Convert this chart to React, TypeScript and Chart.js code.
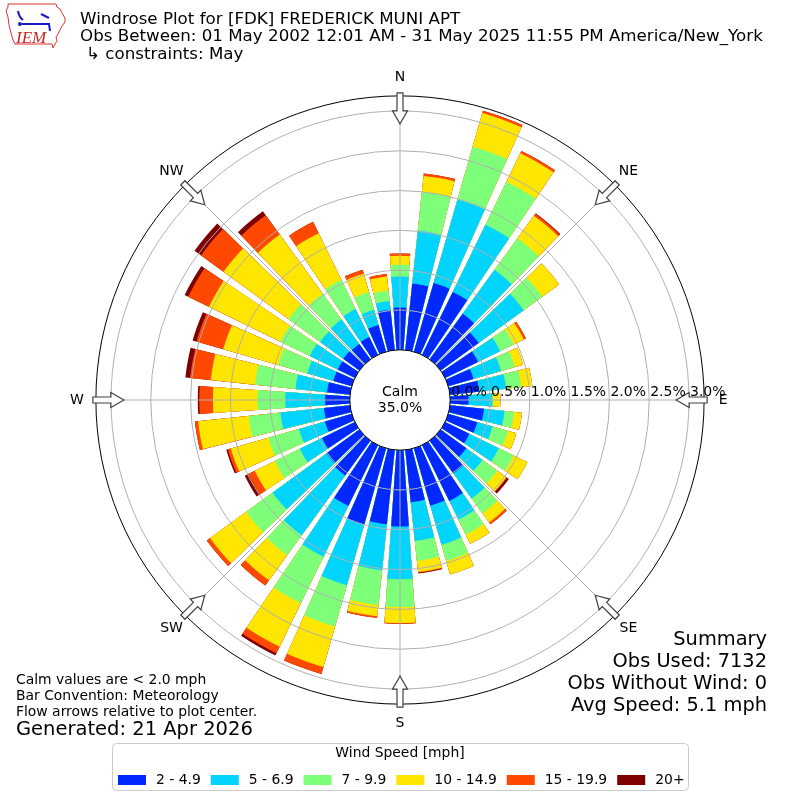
import React, { useEffect, useRef } from "react";
import { Chart, registerables } from "chart.js";

Chart.register(...registerables);

// ---------- data ----------
const directions = [0, 10, 20, 30, 40, 50, 60, 70, 80, 90, 100, 110, 120, 130, 140, 150, 160, 170,
  180, 190, 200, 210, 220, 230, 240, 250, 260, 270, 280, 290, 300, 310, 320, 330, 340, 350];

const speedBins = ["2 - 4.9", "5 - 6.9", "7 - 9.9", "10 - 14.9", "15 - 19.9", "20+"];
const binColors = ["#0028ff", "#00d4ff", "#7dff7a", "#ffe600", "#ff4800", "#7f0000"];

// percent of observations per direction, per speed bin
const bin2to5 = [0.53, 0.84, 0.90, 0.88, 0.71, 0.59, 0.46, 0.33, 0.37, 0.23, 0.43, 0.38, 0.34, 0.40, 0.51, 0.78, 0.75, 0.66,
  0.96, 0.94, 1.00, 0.85, 0.54, 0.51, 0.46, 0.35, 0.33, 0.31, 0.29, 0.24, 0.24, 0.25, 0.24, 0.25, 0.35, 0.51];
const bin5to7 = [0.39, 0.67, 1.09, 0.94, 0.68, 0.70, 0.31, 0.36, 0.34, 0.30, 0.26, 0.20, 0.41, 0.25, 0.39, 0.26, 0.51, 0.49,
  0.66, 0.58, 0.79, 0.71, 0.93, 0.84, 0.31, 0.34, 0.55, 0.50, 0.40, 0.34, 0.39, 0.36, 0.38, 0.39, 0.20, 0.11];
const bin7to10 = [0.15, 0.49, 0.69, 0.60, 0.49, 0.29, 0.19, 0.18, 0.19, 0.01, 0.12, 0.20, 0.21, 0.23, 0.23, 0.21, 0.21, 0.25,
  0.35, 0.44, 0.54, 0.65, 0.31, 0.41, 0.35, 0.40, 0.40, 0.35, 0.51, 0.38, 0.41, 0.49, 0.40, 0.41, 0.23, 0.13];
const bin10to15 = [0.11, 0.20, 0.44, 0.40, 0.35, 0.26, 0.14, 0.11, 0.14, 0.09, 0.10, 0.11, 0.19, 0.14, 0.14, 0.13, 0.18, 0.14,
  0.20, 0.14, 0.53, 0.61, 0.39, 0.56, 0.28, 0.49, 0.64, 0.56, 0.56, 0.72, 1.00, 1.01, 0.92, 0.65, 0.24, 0.18];
const bin15to20 = [0.03, 0.03, 0.03, 0.03, 0.03, 0.00, 0.03, 0.00, 0.00, 0.00, 0.00, 0.00, 0.00, 0.01, 0.03, 0.00, 0.00, 0.01,
  0.01, 0.02, 0.09, 0.09, 0.08, 0.05, 0.09, 0.04, 0.04, 0.17, 0.26, 0.35, 0.29, 0.35, 0.30, 0.16, 0.05, 0.03];
const bin20plus = [0.00, 0.00, 0.00, 0.00, 0.01, 0.00, 0.00, 0.00, 0.00, 0.00, 0.00, 0.00, 0.00, 0.03, 0.00, 0.00, 0.00, 0.01,
  0.00, 0.00, 0.00, 0.03, 0.00, 0.00, 0.05, 0.02, 0.00, 0.02, 0.06, 0.05, 0.05, 0.10, 0.06, 0.00, 0.00, 0.00];

const tickValues = [0, 0.5, 1, 1.5, 2, 2.5, 3];
const tickLabels = ["0.0%", "0.5%", "1.0%", "1.5%", "2.0%", "2.5%", "3.0%"];
const gridValues = [0.5, 1, 1.5, 2, 2.5, 3];
const compassLabels = ["N", "NE", "E", "SE", "S", "SW", "W", "NW"];
const compassAngles = [0, 45, 90, 135, 180, 225, 270, 315];

const calmLabel = "Calm";
const calmPercent = "35.0%";
const titleLines = [
  "Windrose Plot for [FDK] FREDERICK MUNI APT",
  "Obs Between: 01 May 2002 12:01 AM - 31 May 2025 11:55 PM America/New_York",
  "\u21b3 constraints: May",
];
const noteLines = ["Calm values are < 2.0 mph", "Bar Convention: Meteorology", "Flow arrows relative to plot center."];
const generatedText = "Generated: 21 Apr 2026";
const summaryLines = ["Summary", "Obs Used: 7132", "Obs Without Wind: 0", "Avg Speed: 5.1 mph"];
const legendTitle = "Wind Speed [mph]";

// ---------- geometry / style ----------
const W = 800;
const H = 800;
const PX_PER_PCT = 79.6;
const CALM_PX = 50.2;
const HALF_SIZE = 400;
const SCALE_MIN = -CALM_PX / PX_PER_PCT;
const SCALE_MAX = SCALE_MIN + HALF_SIZE / PX_PER_PCT;
const OUTER_VALUE = 3.19;
const BAR_SPAN = 8;
const GAP_SPAN = 2;
const FONT = "'DejaVu Sans', sans-serif";
const GRID_COLOR = "#b0b0b0";

const binSeries = [bin2to5, bin5to7, bin7to10, bin10to15, bin15to20, bin20plus];

// cumulative table for overlaid (stacked) polar areas
const cumulative = binSeries.map((_, k) =>
  directions.map((_, i) => {
    let s = 0;
    for (let j = 0; j <= k; j++) s += binSeries[j][i];
    return s;
  })
);

const chartLabels = directions.flatMap((d) => [d + "\u00b0", ""]);

function pt(cx: number, cy: number, r: number, deg: number, t = 0) {
  const a = (deg * Math.PI) / 180;
  return [cx + r * Math.sin(a) + t * Math.cos(a), cy - r * Math.cos(a) + t * Math.sin(a)];
}

const decorPlugin = {
  id: "windroseDecor",
  afterDatasetsDraw(chart: any) {
    const s = chart.scales.r;
    const ctx = chart.ctx;
    const rc = s.getDistanceFromCenterForValue(0);
    ctx.save();
    ctx.beginPath();
    ctx.arc(s.xCenter, s.yCenter, rc, 0, Math.PI * 2);
    ctx.fillStyle = "#ffffff";
    ctx.fill();
    ctx.restore();
  },
  afterDraw(chart: any) {
    const s = chart.scales.r;
    const ctx = chart.ctx;
    const cx = s.xCenter;
    const cy = s.yCenter;
    const rc = s.getDistanceFromCenterForValue(0);
    const ro = s.getDistanceFromCenterForValue(OUTER_VALUE);
    ctx.save();

    // angle lines
    ctx.strokeStyle = GRID_COLOR;
    ctx.lineWidth = 1;
    compassAngles.forEach((a) => {
      const p1 = pt(cx, cy, rc, a);
      const p2 = pt(cx, cy, ro, a);
      ctx.beginPath();
      ctx.moveTo(p1[0], p1[1]);
      ctx.lineTo(p2[0], p2[1]);
      ctx.stroke();
    });

    // calm circle + outer circle
    ctx.strokeStyle = "#000";
    ctx.lineWidth = 1;
    ctx.beginPath();
    ctx.arc(cx, cy, rc, 0, Math.PI * 2);
    ctx.stroke();
    ctx.beginPath();
    ctx.arc(cx, cy, ro, 0, Math.PI * 2);
    ctx.stroke();

    // compass arrows
    compassAngles.forEach((a) => {
      const poly = [
        [ro + 3, -3], [ro - 15, -3], [ro - 15, -7.5], [ro - 28, 0], [ro - 15, 7.5], [ro - 15, 3], [ro + 3, 3],
      ].map(([r, t]) => pt(cx, cy, r, a, t));
      ctx.beginPath();
      poly.forEach((p, i) => (i === 0 ? ctx.moveTo(p[0], p[1]) : ctx.lineTo(p[0], p[1])));
      ctx.closePath();
      ctx.fillStyle = "#ffffff";
      ctx.fill();
      ctx.strokeStyle = "#404040";
      ctx.lineWidth = 1.2;
      ctx.stroke();
    });

    // compass labels
    ctx.fillStyle = "#000";
    ctx.font = `14px ${FONT}`;
    ctx.textAlign = "center";
    ctx.textBaseline = "middle";
    compassLabels.forEach((lab, i) => {
      const p = pt(cx, cy, ro + 19, compassAngles[i]);
      ctx.fillText(lab, p[0], p[1]);
    });

    // radial tick labels
    ctx.textAlign = "left";
    tickValues.forEach((v, i) => {
      const r = s.getDistanceFromCenterForValue(v);
      ctx.fillText(tickLabels[i], cx + r + 1, cy - 8);
    });

    // calm text
    ctx.textAlign = "center";
    ctx.fillText(calmLabel, cx, cy - 8);
    ctx.fillText(calmPercent, cx, cy + 8);

    // titles
    ctx.textAlign = "left";
    ctx.font = `16.7px ${FONT}`;
    ctx.fillText(titleLines[0], 80, 20);
    ctx.fillText(titleLines[1], 80, 37);
    ctx.fillText(titleLines[2], 86, 55);

    // notes
    ctx.font = `13.9px ${FONT}`;
    noteLines.forEach((t, i) => ctx.fillText(t, 16, 680 + i * 16));
    ctx.font = `19.5px ${FONT}`;
    ctx.fillText(generatedText, 16, 730);

    // summary
    ctx.textAlign = "right";
    ctx.font = `19.4px ${FONT}`;
    summaryLines.forEach((t, i) => ctx.fillText(t, 767, 640 + i * 22));

    // legend
    const lx = 112, ly = 743, lw = 576, lh = 47;
    ctx.beginPath();
    ctx.roundRect(lx + 0.5, ly + 0.5, lw, lh, 4);
    ctx.fillStyle = "rgba(255,255,255,0.85)";
    ctx.fill();
    ctx.strokeStyle = "#cccccc";
    ctx.lineWidth = 1;
    ctx.stroke();
    ctx.fillStyle = "#000";
    ctx.textAlign = "center";
    ctx.font = `13.9px ${FONT}`;
    ctx.fillText(legendTitle, 400, 753);
    ctx.textAlign = "left";
    let x = 118;
    speedBins.forEach((lab, i) => {
      ctx.fillStyle = binColors[i];
      ctx.fillRect(x, 775, 28, 10);
      ctx.fillStyle = "#000";
      ctx.fillText(lab, x + 38, 780);
      x += 38 + ctx.measureText(lab).width + 10;
    });

    // IEM logo
    const iowa = [[8, 4], [56, 4], [57, 7], [60, 9], [62, 13], [65, 18], [65, 22], [62, 26], [60, 30], [58, 34],
      [56, 37], [57, 41], [55, 44], [53, 48], [52, 44], [15, 44], [13, 40], [11, 33], [9, 25], [8, 17], [6, 11], [8, 7]];
    ctx.beginPath();
    iowa.forEach((p, i) => (i === 0 ? ctx.moveTo(p[0], p[1]) : ctx.lineTo(p[0], p[1])));
    ctx.closePath();
    ctx.strokeStyle = "#dd3333";
    ctx.lineWidth = 1;
    ctx.stroke();
    ctx.strokeStyle = "#1a1acc";
    ctx.fillStyle = "#1a1acc";
    ctx.lineWidth = 2;
    ctx.beginPath();
    ctx.moveTo(22, 24);
    ctx.lineTo(50, 24);
    ctx.moveTo(18, 11);
    ctx.quadraticCurveTo(19, 17, 23, 20);
    ctx.moveTo(41, 14);
    ctx.lineTo(49, 18);
    ctx.moveTo(49, 24);
    ctx.lineTo(50, 31);
    ctx.stroke();
    ctx.beginPath();
    ctx.arc(20, 24, 2, 0, Math.PI * 2);
    ctx.fill();
    ctx.fillStyle = "#cc2222";
    ctx.font = "italic 17px 'Liberation Serif', 'DejaVu Serif', serif";
    ctx.textAlign = "left";
    ctx.textBaseline = "alphabetic";
    ctx.fillText("IEM", 16, 43);

    ctx.restore();
  },
};

export default function App() {
  const ref = useRef<HTMLCanvasElement | null>(null);
  useEffect(() => {
    if (!ref.current) return;
    const chart = new Chart(ref.current, {
      type: "polarArea",
      data: {
        labels: chartLabels,
        datasets: speedBins.map((name, k) => ({
          label: name,
          data: directions.flatMap((_, i) => [cumulative[k][i], 0]),
          backgroundColor: (c: any) => (c.dataIndex % 2 === 0 ? binColors[k] : "rgba(0,0,0,0)"),
          borderWidth: 0,
          angle: (c: any) => (c.dataIndex % 2 === 0 ? BAR_SPAN : GAP_SPAN),
        })),
      },
      options: {
        responsive: false,
        devicePixelRatio: 1,
        animation: false,
        events: [],
        layout: { padding: 0 },
        plugins: {
          legend: { display: false },
          tooltip: { enabled: false },
          title: { display: false },
        },
        scales: {
          r: {
            min: SCALE_MIN,
            max: SCALE_MAX,
            startAngle: -BAR_SPAN / 2,
            ticks: { display: false },
            afterBuildTicks: (sc: any) => {
              sc.ticks = gridValues.map((v) => ({ value: v }));
            },
            grid: { circular: true, color: GRID_COLOR, lineWidth: 1, z: 1 },
            angleLines: { display: false },
            pointLabels: { display: false },
          },
        },
      } as any,
      plugins: [decorPlugin],
    });
    return () => chart.destroy();
  }, []);
  return (
    <div style={{ position: "fixed", left: 0, top: 0, width: W, height: H, background: "#fff" }}>
      <canvas ref={ref} width={W} height={H} style={{ width: W, height: H, display: "block" }} />
    </div>
  );
}
